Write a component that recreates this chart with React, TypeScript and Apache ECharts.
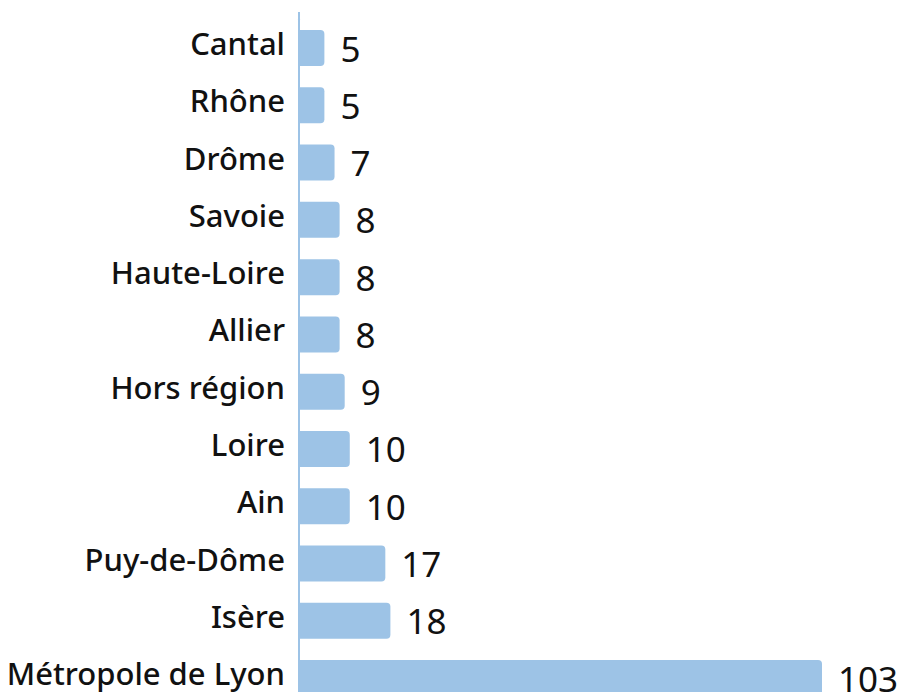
import React, { useEffect, useRef } from "react";
import * as echarts from "echarts";

const categories = [
  "Cantal",
  "Rhône",
  "Drôme",
  "Savoie",
  "Haute-Loire",
  "Allier",
  "Hors région",
  "Loire",
  "Ain",
  "Puy-de-Dôme",
  "Isère",
  "Métropole de Lyon",
];
const values = [5, 5, 7, 8, 8, 8, 9, 10, 10, 17, 18, 103];

export default function App() {
  const ref = useRef<HTMLDivElement>(null);
  useEffect(() => {
    document.body.style.margin = "0";
    document.body.style.overflow = "hidden";
    const chart = echarts.init(ref.current!, null, { renderer: "svg" });
    const font = "'Noto Sans', sans-serif";
    chart.setOption({
      animation: false,
      grid: { left: 299, top: 19.4, width: 523, height: 687.3, containLabel: false },
      xAxis: {
        type: "value",
        min: 0,
        max: 103,
        show: false,
      },
      yAxis: {
        type: "category",
        inverse: true,
        data: categories,
        axisLine: { show: true, lineStyle: { color: "#9dc3e6", width: 2 } },
        axisTick: { show: false },
        axisLabel: {
          color: "#111",
          fontSize: 31,
          fontWeight: 500,
          fontFamily: font,
          margin: 14,
          verticalAlign: "bottom",
          lineHeight: 10,
        },
      },
      graphic: [
        {
          type: "line",
          shape: { x1: 299, y1: 12, x2: 299, y2: 20 },
          style: { stroke: "#9dc3e6", lineWidth: 2 },
        },
      ],
      series: [
        {
          type: "bar",
          data: values,
          barWidth: 36,
          itemStyle: { color: "#9dc3e6", borderRadius: [0, 4, 4, 0] },
          label: {
            show: true,
            position: "right",
            distance: 16,
            color: "#111",
            fontSize: 35,
            fontFamily: font,
          },
        },
      ],
    });
    return () => chart.dispose();
  }, []);
  return <div ref={ref} style={{ width: 904, height: 720 }} />;
}
